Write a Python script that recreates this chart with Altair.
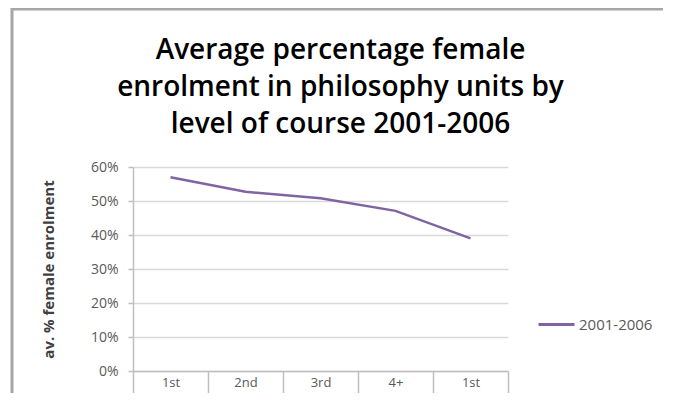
import altair as alt
import pandas as pd

# data
level_index = [0, 1, 2, 3, 4]
level_labels = ["1st", "2nd", "3rd", "4+", "1st"]
female_share = [0.570, 0.527, 0.508, 0.471, 0.390]
series_name = "2001-2006"

df = pd.DataFrame({
    "idx": level_index,
    "value": female_share,
    "series": [series_name] * len(level_index),
})

label_expr = "[" + ",".join("'%s'" % s for s in level_labels) + "][datum.value]"

FONT = "Open Sans"
GRAY_TXT = "#595959"

line = alt.Chart(df).mark_line(strokeWidth=2.5).encode(
    x=alt.X(
        "idx:O",
        scale=alt.Scale(type="band", paddingInner=0, paddingOuter=0),
        axis=alt.Axis(
            title=None, labelExpr=label_expr, labelAngle=0,
            tickBand="extent", tickSize=28, tickColor="#bfbfbf", tickWidth=1.5,
            domainColor="#bfbfbf", domainWidth=1.5,
            labelPadding=-23, labelFont=FONT, labelFontSize=13, labelColor=GRAY_TXT,
            grid=False,
        ),
    ),
    y=alt.Y(
        "value:Q",
        scale=alt.Scale(domain=[0, 0.6], nice=False),
        axis=alt.Axis(
            title="av. % female enrolment", format=".0%",
            values=[0, 0.1, 0.2, 0.3, 0.4, 0.5, 0.6],
            tickSize=5, tickColor="#bfbfbf", tickWidth=1.5,
            domainColor="#bfbfbf", domainWidth=1.5,
            labelPadding=10, labelFont=FONT, labelFontSize=14, labelColor=GRAY_TXT,
            titleFont=FONT, titleFontSize=15, titleFontWeight="bold", titleColor="#404040",
            titleX=-85, titleY=102, titleAngle=-90, titleAlign="center", titleBaseline="middle",
            grid=True, gridColor="#d9d9d9", gridWidth=1.5,
        ),
    ),
    color=alt.Color(
        "series:N",
        scale=alt.Scale(range=["#8064A2"]),
        legend=alt.Legend(
            title=None, orient="none", legendX=404, legendY=138,
            symbolType="stroke", symbolSize=1296, symbolStrokeWidth=3,
            labelFont=FONT, labelFontSize=15, labelColor=GRAY_TXT, labelOffset=3,
        ),
    ),
)

frame = alt.Chart(pd.DataFrame({"f": [0]})).mark_rect(
    fill=None, stroke="#a6a6a6", strokeWidth=3
).encode(
    x=alt.value(-121), x2=alt.value(600),
    y=alt.value(-158), y2=alt.value(300),
)

chart = alt.layer(frame, line).properties(
    width=375,
    height=204,
    autosize=alt.AutoSizeParams(type="none"),
    padding={"left": 125, "top": 159, "right": 155, "bottom": 22},
    title=alt.TitleParams(
        text=["Average percentage female", "enrolment in philosophy units by",
              "level of course 2001-2006"],
        font=FONT, fontSize=28, fontWeight=600, color="#000000",
        lineHeight=37, anchor="middle", dx=20, offset=0,
        baseline="alphabetic", dy=153,
    ),
).configure_view(stroke=None)

chart.save("out.html", embed_options={"renderer": "svg", "actions": False})
